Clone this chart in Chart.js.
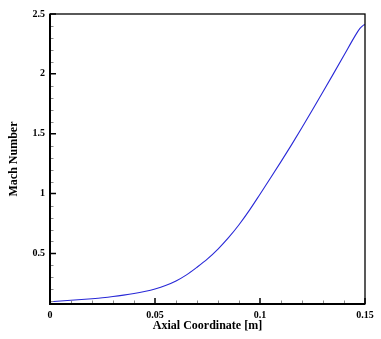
<!DOCTYPE html>
<html>
<head>
<meta charset="utf-8">
<script src="https://cdn.jsdelivr.net/npm/chart.js@4"></script>
<style>
html,body{margin:0;padding:0;background:#fff;}
#wrap{width:381px;height:339px;}
</style>
</head>
<body>
<div id="wrap"><canvas id="c" width="381" height="339"></canvas></div>
<script>
// Data
const axialCoord = [0, 0.005, 0.01, 0.015, 0.02, 0.025, 0.03, 0.035, 0.04, 0.045, 0.05, 0.055, 0.06, 0.065, 0.07, 0.075, 0.08, 0.085, 0.09, 0.095, 0.1, 0.105, 0.11, 0.115, 0.12, 0.125, 0.13, 0.135, 0.14, 0.145, 0.1475, 0.149, 0.15];
const machNumber = [0.097, 0.103, 0.109, 0.115, 0.122, 0.130, 0.140, 0.152, 0.166, 0.183, 0.204, 0.232, 0.270, 0.321, 0.385, 0.455, 0.537, 0.632, 0.740, 0.862, 0.995, 1.130, 1.267, 1.407, 1.552, 1.700, 1.850, 2.002, 2.155, 2.309, 2.378, 2.403, 2.412];
const xTickValues = [0, 0.05, 0.1, 0.15];
const xTickLabels = ['0', '0.05', '0.1', '0.15'];
const yTickValues = [0.5, 1, 1.5, 2, 2.5];
const yTickLabels = ['0.5', '1', '1.5', '2', '2.5'];
const xMinorStep = 0.01;
const yMinorStep = 0.1;

const points = axialCoord.map((x, i) => ({x: x, y: machNumber[i]}));
const serif = '"Liberation Serif", "Times New Roman", serif';

const frameTicks = {
  id: 'frameTicks',
  afterDraw(chart) {
    const ctx = chart.ctx;
    const a = chart.chartArea;
    const xs = chart.scales.x, ys = chart.scales.y;
    ctx.save();
    // minor ticks
    ctx.strokeStyle = '#888';
    ctx.lineWidth = 1;
    ctx.beginPath();
    for (let k = 1; k * xMinorStep < xs.max - 1e-9; k++) {
      const v = k * xMinorStep;
      if (Math.abs(v / 0.05 - Math.round(v / 0.05)) < 1e-6) continue;
      const px = Math.round(xs.getPixelForValue(v)) + 0.5;
      ctx.moveTo(px, a.bottom); ctx.lineTo(px, a.bottom - 3.5);
    }
    for (let k = 1; k * yMinorStep < ys.max - 1e-9; k++) {
      const v = k * yMinorStep;
      if (v < ys.min) continue;
      if (Math.abs(v / 0.5 - Math.round(v / 0.5)) < 1e-6) continue;
      const py = Math.round(ys.getPixelForValue(v)) + 0.5;
      ctx.moveTo(a.left, py); ctx.lineTo(a.left + 3.5, py);
    }
    ctx.stroke();
    // major ticks
    ctx.strokeStyle = '#000';
    ctx.lineWidth = 1.5;
    ctx.beginPath();
    xTickValues.forEach(v => {
      const px = xs.getPixelForValue(v);
      ctx.moveTo(px, a.bottom); ctx.lineTo(px, a.bottom - 6);
    });
    yTickValues.forEach(v => {
      const py = ys.getPixelForValue(v);
      ctx.moveTo(a.left, py); ctx.lineTo(a.left + 6, py);
    });
    ctx.stroke();
    // frame
    ctx.lineWidth = 1.3;
    ctx.strokeRect(a.left, a.top, a.right - a.left, a.bottom - a.top);
    ctx.lineWidth = 2;
    ctx.beginPath();
    ctx.moveTo(a.left, a.top); ctx.lineTo(a.left, a.bottom); ctx.lineTo(a.right, a.bottom);
    ctx.stroke();
    ctx.restore();
  }
};

new Chart(document.getElementById('c'), {
  type: 'line',
  data: {
    datasets: [{
      data: points,
      borderColor: 'rgb(40,40,215)',
      borderWidth: 1.1,
      pointRadius: 0,
      fill: false,
      cubicInterpolationMode: 'monotone'
    }]
  },
  options: {
    responsive: false,
    animation: false,
    layout: {padding: {left: 0, right: 16, top: 14, bottom: 0}},
    plugins: {legend: {display: false}, tooltip: {enabled: false}},
    scales: {
      x: {
        type: 'linear',
        min: 0, max: 0.15,
        grid: {display: false, drawTicks: false},
        border: {display: false},
        afterBuildTicks: s => { s.ticks = xTickValues.map(v => ({value: v})); },
        afterFit: s => { s.height = 35; },
        ticks: {
          padding: 5,
          color: '#000',
          font: {family: serif, size: 10, weight: 'bold'},
          maxRotation: 0,
          callback: v => xTickLabels[xTickValues.indexOf(v)]
        },
        title: {
          display: true,
          text: 'Axial Coordinate [m]',
          color: '#000',
          font: {family: serif, size: 12, weight: 'bold'},
          padding: {top: 0, bottom: 6}
        }
      },
      y: {
        type: 'linear',
        min: 0.078, max: 2.5,
        grid: {display: false, drawTicks: false},
        border: {display: false},
        afterBuildTicks: s => { s.ticks = yTickValues.map(v => ({value: v})); },
        afterFit: s => { s.width = 50; },
        ticks: {
          padding: 5,
          color: '#000',
          font: {family: serif, size: 10, weight: 'bold'},
          callback: v => yTickLabels[yTickValues.indexOf(v)]
        },
        title: {
          display: true,
          text: 'Mach Number',
          color: '#000',
          font: {family: serif, size: 12, weight: 'bold'},
          padding: {top: 7, bottom: 0}
        }
      }
    }
  },
  plugins: [frameTicks]
});
</script>
</body>
</html>
